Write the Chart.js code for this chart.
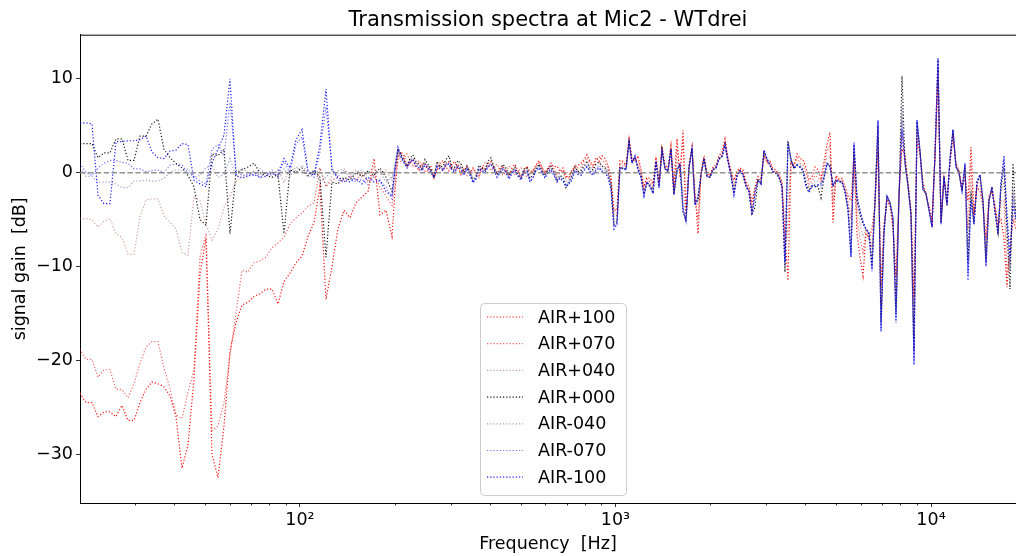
<!DOCTYPE html>
<html>
<head>
<meta charset="utf-8">
<script src="https://cdn.jsdelivr.net/npm/chart.js@4/dist/chart.umd.min.js"></script>
<style>
  html, body { margin: 0; padding: 0; background: #fff; }
  #wrap { width: 1016px; height: 556px; }
</style>
</head>
<body>
<div id="wrap"><canvas id="spectra" width="1016" height="556"></canvas></div>
<script>
// frequency grid [Hz], shared by all series
const freqs = [
  // 20 - 200 Hz
  20.08, 20.98, 21.91, 22.90, 23.92, 24.99, 26.11, 27.28, 28.50, 29.77,
  31.11, 32.50, 33.95, 35.47, 37.06, 38.72, 40.46, 42.27, 44.16, 46.13,
  48.20, 50.36, 52.61, 54.96, 57.43, 60.00, 62.68, 65.49, 68.42, 71.48,
  74.68, 78.02, 81.51, 85.16, 88.97, 92.96, 97.12, 101.5, 106.0, 110.8,
  115.7, 120.9, 126.3, 131.9, 137.9, 144.0, 150.5, 157.2, 164.3, 171.6,
  179.3, 187.3, 195.7,
  // 200 - 1000 Hz
  200.0, 204.4, 208.9, 213.6, 218.3, 223.1, 228.0, 233.1, 238.3, 243.6,
  249.0, 254.5, 260.1, 265.9, 271.8, 277.8, 284.0, 290.2, 296.6, 303.2,
  309.9, 316.8, 323.8, 331.0, 338.3, 345.8, 353.5, 361.3, 369.3, 377.4,
  385.8, 394.3, 403.0, 412.0, 421.1, 430.4, 439.9, 449.7, 459.6, 469.8,
  480.2, 490.8, 501.7, 512.8, 524.2, 535.8, 547.7, 559.8, 572.2, 584.8,
  597.8, 611.0, 624.5, 638.3, 652.5, 666.9, 681.7, 696.7, 712.1, 727.9,
  744.0, 760.5, 777.3, 794.6, 812.2, 830.1, 848.5, 867.3, 886.5, 906.1,
  926.2, 946.7, 967.7, 989.0,
  // 1 - 18.6 kHz
  1011, 1033, 1056, 1080, 1104, 1128, 1153, 1178, 1205, 1231,
  1258, 1286, 1315, 1344, 1374, 1404, 1435, 1467, 1499, 1532,
  1566, 1601, 1637, 1673, 1710, 1748, 1786, 1826, 1866, 1908,
  1950, 1993, 2037, 2082, 2128, 2175, 2224, 2273, 2323, 2374,
  2427, 2481, 2536, 2592, 2649, 2708, 2768, 2829, 2892, 2956,
  3021, 3088, 3156, 3226, 3298, 3371, 3445, 3521, 3599, 3679,
  3761, 3844, 3929, 4016, 4105, 4196, 4289, 4383, 4480, 4580,
  4681, 4785, 4891, 4999, 5110, 5223, 5338, 5456, 5577, 5701,
  5827, 5956, 6088, 6222, 6360, 6501, 6645, 6792, 6942, 7096,
  7253, 7414, 7578, 7745, 7917, 8092, 8271, 8454, 8641, 8833,
  9028, 9228, 9432, 9641, 9855, 10073, 10296, 10524, 10757, 10995,
  11238, 11487, 11741, 12001, 12267, 12538, 12816, 13100, 13390, 13686,
  13989, 14299, 14615, 14939, 15269, 15607, 15953, 16306, 16667, 17036,
  17413, 17799, 18193, 18595
];

const seriesNames = ['AIR+100', 'AIR+070', 'AIR+040', 'AIR+000', 'AIR-040', 'AIR-070', 'AIR-100'];
const seriesColors = [
  'rgba(255,0,0,0.95)',
  'rgba(235,20,20,0.65)',
  'rgba(150,70,70,0.5)',
  'rgba(0,0,0,0.9)',
  'rgba(60,60,150,0.5)',
  'rgba(20,20,240,0.6)',
  'rgba(0,0,245,0.9)'
];

// signal gain [dB] per series
const air100 = [
  -23.5, -24.5, -24.5, -26.0, -25.5, -25.5, -26.0, -24.8, -26.4, -26.4,
  -24.5, -23.1, -22.3, -22.5, -22.8, -23.8, -26.0, -31.5, -29.0, -22.0,
  -10.8, -7.0, -30.0, -32.5, -27.0, -19.0, -16.0, -14.1, -13.8, -13.2,
  -12.9, -12.4, -12.4, -14.0, -11.6, -10.7, -9.6, -8.9, -6.8, -5.3,
  -1.5, -13.5, -10.0, -6.0, -4.0, -4.8, -3.2, -2.6, -2.0, 1.5,
  -4.5, -4.0, -6.8,
  -2.0, 1.5, 2.2, 1.8, 0.6, 1.0, 1.4, 0.7, 0.2, 0.9,
  0.9, 0.2, 0.3, -0.6, 0.2, 1.0, 1.3, 0.6, 0.2, 0.9,
  1.2, 0.5, -0.2, 0.4, 0.6, -0.2, 0.5, 0.0, -0.3, 0.6,
  0.4, 1.0, 1.2, 0.4, -0.1, 0.6, 0.7, 0.0, -0.2, 0.5,
  0.9, 0.2, -0.4, 0.0, 0.7, 0.1, 0.2, 0.8, 1.3, 0.6,
  0.0, 0.5, 1.0, 0.6, 0.7, 0.1, 0.5, -0.4, -0.5, 0.3,
  0.6, 0.8, 1.0, 1.4, 1.9, 1.2, 0.8, 1.6, 1.2, 1.8,
  1.5, 0.8, -0.5, -4.0,
  -4.0, 1.3, 1.2, 0.8, 3.6, 1.5, 1.2, 1.8, 0.3, -1.5,
  -0.5, -0.6, -1.2, 1.6, -1.0, 2.8, 0.8, 0.5, 2.9, -1.6,
  3.6, -0.5, 4.5, -4.5, 0.8, 2.8, -2.0, -6.5, 0.0, 1.8,
  0.0, -0.3, 0.6, 0.8, 1.8, 2.2, 3.6, 1.5, 0.2, -0.8,
  0.2, 0.5, 0.3, -1.0, -1.5, -3.2, -1.5, -0.4, -0.6, 1.8,
  1.0, 1.2, 0.4, 0.3, -0.2, -1.0, -6.5, -11.5, 1.0, 0.8,
  2.0, 1.5, 1.4, 0.5, -0.8, -0.5, 0.6, 0.3, -0.6, 1.2,
  3.0, 4.3, -5.3, -0.3, -0.7, -0.6, -1.5, -2.5, -3.0, 1.2,
  -6.5, -9.0, -11.0, -6.5, -7.0, -6.0, -3.5, 2.5, -12.0, -5.5,
  -3.0, -3.5, -6.0, -11.0, -2.2, 2.5, 2.0, -1.0, -4.0, -13.3,
  3.5, 2.0, -1.0, -2.5, -3.5, -5.0, 1.5, 10.0, -5.0, -0.6,
  -3.0, 1.0, 3.8, 1.0, 0.2, -1.5, -0.5, -3.0, 2.7, -4.5,
  -1.5, -2.0, -3.5, -7.0, -2.5, -2.0, -3.5, -5.5, -5.0, -7.0,
  -12.2, -8.0, -5.0, -6.0
];
const air070 = [
  -18.8, -19.9, -19.9, -21.8, -21.0, -21.0, -23.1, -23.1, -24.0, -22.5,
  -20.3, -18.6, -18.0, -18.0, -20.8, -23.0, -25.8, -26.2, -23.4, -21.0,
  -9.0, -6.5, -27.5, -27.0, -24.5, -19.5, -15.0, -10.4, -10.6, -9.6,
  -9.4, -9.0, -8.0, -7.5, -6.9, -5.5, -4.8, -4.3, -3.6, -3.2,
  0.5, -1.5, -0.8, -0.5, -1.0, -0.3, -0.8, 0.0, -1.0, -0.3,
  -1.5, -2.5, -3.5,
  -1.0, 2.2, 1.2, 1.6, 2.0, 1.3, 0.6, 0.9, 1.3, 0.7,
  0.0, 0.4, 0.8, -0.4, 0.3, 0.9, 0.2, 0.8, 1.2, 0.7,
  0.1, 0.7, 0.9, 0.3, -0.3, 0.1, 0.4, -0.2, -0.5, 0.4,
  1.1, 0.9, 0.2, 0.5, 0.9, 0.4, -0.3, 0.1, 0.7, 0.4,
  -0.2, 0.1, 0.5, 0.1, -0.5, -0.1, 0.2, 0.7, 1.1, 0.5,
  -0.1, 0.4, 0.8, 0.4, -0.2, 0.0, 0.3, -0.6, -0.2, 0.1,
  0.9, 0.5, 0.6, 1.2, 1.6, 1.0, 0.6, 1.3, 1.7, 1.4,
  1.0, 0.5, -0.8, -4.5,
  -4.5, 1.0, 1.0, 0.6, 3.4, 1.3, 1.5, 1.2, 0.0, -1.8,
  -0.7, -1.0, -1.6, 1.4, -1.2, 2.6, 0.6, 0.3, 2.7, -2.0,
  2.5, 0.0, 3.5, -4.8, 0.6, 2.7, -2.6, -5.0, -0.2, 1.6,
  -0.2, -0.4, 0.5, 0.6, 1.6, 2.0, 3.3, 1.4, 0.0, -1.5,
  0.0, 0.4, 0.0, -1.2, -1.8, -3.8, -1.7, -0.6, -0.9, 2.0,
  1.2, 1.0, 0.2, 0.1, -0.3, -1.2, -8.0, -6.0, 1.2, 0.6,
  1.6, 1.0, 0.8, 0.0, -1.2, -0.9, -0.3, -0.5, -0.9, 0.6,
  2.2, 3.0, -3.5, -0.5, -0.8, -0.8, -1.8, -3.0, -5.0, 2.0,
  -5.0, -7.0, -8.5, -6.2, -6.8, -8.0, -3.2, 3.8, -14.5, -6.0,
  -2.8, -3.3, -5.5, -13.0, -2.4, 3.5, 1.5, -1.2, -4.2, -16.0,
  4.5, 2.2, -1.4, -2.3, -3.8, -5.4, 1.8, 11.0, -5.2, -0.5,
  -3.2, 1.2, 4.2, 0.8, 0.1, -1.8, 0.2, -6.0, 1.0, -5.0,
  -1.2, -1.0, -3.2, -8.5, -2.8, -1.8, -3.8, -6.0, -3.0, -3.0,
  -10.5, -8.5, -4.5, -5.5
];
const air040 = [
  -4.9, -4.9, -5.0, -5.8, -5.2, -4.9, -6.5, -6.9, -8.7, -8.7,
  -4.7, -2.9, -2.8, -2.8, -4.6, -5.3, -6.0, -8.5, -8.8, -2.5,
  -3.0, -5.5, -7.2, -6.0, -3.7, -2.5, -1.0, -0.3, -0.5, 0.2,
  -0.3, 0.0, -0.2, 0.3, -1.0, 0.5, 0.2, 0.8, 0.0, -0.2,
  0.5, -1.5, -0.3, 0.2, 0.4, -0.3, 0.3, -0.5, 0.0, 0.5,
  -0.2, 0.3, -0.8,
  0.5, 2.3, 1.9, 1.4, 0.8, 1.2, 1.6, 1.1, 0.9, 0.5,
  1.1, 0.6, 0.4, -0.2, 0.9, 0.7, 0.3, 1.0, 1.2, 0.5,
  0.4, 0.9, 0.6, 0.1, 0.8, 0.2, -0.6, -0.3, 0.5, 0.3,
  0.2, 0.7, 1.1, 0.7, 0.0, 0.2, 0.6, 0.3, -0.2, 0.2,
  0.5, 0.0, -0.4, 0.3, 0.6, -0.2, 0.1, 0.5, 0.8, 0.3,
  -0.1, 0.3, 0.6, 0.2, -0.4, -0.1, 0.2, -0.9, -0.6, -0.1,
  0.5, 0.2, 0.3, 0.9, 1.2, 0.7, 0.4, 0.9, 1.2, 0.8,
  0.6, 0.2, -1.0, -5.0,
  -5.0, 0.8, 0.7, 0.5, 3.4, 1.2, 1.6, 0.8, -0.3, -2.1,
  -0.9, -1.2, -1.9, 1.3, -1.4, 2.5, 0.5, 0.2, 2.6, -2.2,
  1.2, 0.6, -2.0, -5.0, 0.6, 2.6, -3.0, -3.5, -0.2, 1.6,
  -0.3, -0.4, 0.4, 0.6, 1.5, 1.8, 3.1, 1.3, -0.1, -2.0,
  -0.2, 0.3, -0.1, -1.3, -1.9, -4.2, -2.5, -0.7, -1.0, 2.2,
  1.3, 0.9, 0.1, 0.0, -0.4, -1.3, -9.0, -3.0, 1.3, 0.5,
  1.0, 0.8, 0.5, -0.8, -1.6, -1.2, -0.9, -0.9, -1.1, 0.0,
  1.5, 1.8, -2.5, -0.7, -0.9, -0.9, -1.9, -3.5, -6.5, 2.6,
  -3.8, -5.5, -6.8, -6.1, -6.6, -9.0, -3.1, 4.5, -15.5, -6.2,
  -2.6, -3.2, -5.2, -14.5, -2.5, 6.0, 1.2, -1.3, -4.3, -18.0,
  5.0, 2.3, -1.6, -2.2, -3.9, -5.6, 1.9, 11.5, -5.3, -0.4,
  -3.3, 1.3, 4.4, 0.7, 0.0, -1.9, 0.5, -8.0, -1.0, -5.2,
  -1.1, -0.6, -3.1, -9.0, -2.9, -1.7, -4.0, -6.2, -2.0, -1.0,
  -8.0, -10.0, -2.0, -5.2
];
const air000 = [
  3.1, 3.1, 3.1, 1.6, 2.1, 2.1, 3.6, 3.6, 1.3, 1.3,
  3.9, 3.9, 5.2, 5.7, 2.5, 1.6, 1.0, 0.5, -0.3, -1.5,
  -5.0, -5.6, 2.0, 1.8, 2.5, -6.5, 0.0, 0.3, 0.6, 1.0,
  0.0, -0.3, -0.5, -0.2, -6.5, 0.3, 0.0, 0.5, -0.3, 0.2,
  -0.5, -9.0, -1.0, -1.2, -0.5, -0.8, 0.0, -0.4, 0.2, -0.3,
  0.5, -0.5, -2.0,
  0.0, 2.6, 2.0, 1.3, 0.7, 1.5, 1.9, 1.2, 0.9, 0.4,
  1.4, 0.9, 0.3, -0.5, 1.2, 0.6, 0.7, 1.4, 1.8, 0.5,
  0.6, 1.3, 0.9, 0.0, 0.7, 0.1, -0.9, -0.5, 0.8, 0.5,
  0.3, 1.2, 1.6, 0.6, -0.2, 0.1, 0.9, 0.5, -0.3, 0.1,
  0.6, -0.2, -0.6, 0.4, 0.5, -0.6, -0.2, 0.4, 0.9, 0.2,
  -0.3, 0.4, 0.7, 0.0, -0.8, -0.3, -0.5, -1.6, -1.1, -0.2,
  0.6, 0.1, 0.2, 0.7, 1.1, 0.5, 0.3, 0.9, 1.1, 0.7,
  0.5, 0.0, -1.2, -5.5,
  -5.2, 0.6, 0.4, 0.4, 3.5, 1.1, 1.7, 0.5, -0.4, -2.3,
  -1.0, -1.4, -2.0, 1.2, -1.5, 2.4, 0.4, 0.1, 2.5, -2.4,
  0.4, 0.8, -4.2, -5.2, 0.5, 2.6, -3.2, -3.0, -0.3, 1.5,
  -0.4, -0.5, 0.3, 0.5, 1.4, 1.7, 3.0, 1.2, -0.2, -2.2,
  -0.3, 0.2, -0.2, -1.4, -2.0, -4.4, -3.7, -0.8, -1.2, 2.3,
  1.4, 0.8, 0.0, -0.1, -0.5, -1.5, -10.6, 3.4, 1.4, 0.4,
  0.8, 0.6, 0.3, -1.2, -1.8, -1.5, -1.3, -1.5, -2.7, -0.6,
  0.9, 0.9, -1.5, -0.9, -1.0, -1.0, -2.0, -3.8, -8.5, 2.8,
  -3.0, -4.5, -5.5, -6.0, -6.4, -9.8, -3.0, 5.0, -16.0, -6.3,
  -2.5, -3.2, -5.0, -15.0, -2.6, 10.3, 1.0, -1.4, -4.4, -19.0,
  5.4, 2.3, -1.7, -2.2, -4.0, -5.7, 2.0, 12.0, -5.4, -0.4,
  -3.4, 1.4, 4.5, 0.6, 0.0, -2.0, 0.8, -9.5, -2.0, -5.4,
  -1.0, -0.3, -3.0, -9.5, -3.0, -1.6, -4.2, -6.4, -1.5, 0.5,
  -6.0, -12.4, 1.0, -5.0
];
const airm040 = [
  0.5, -0.4, -0.4, -1.0, -1.0, -1.0, -1.2, -1.6, -1.6, -0.9,
  -0.9, -0.8, -0.9, -0.9, -0.6, 0.0, 0.3, 0.2, 0.4, -0.5,
  -0.3, 0.5, 0.8, -0.5, -0.2, 1.5, -0.3, 0.5, 0.0, -0.3,
  0.4, -0.2, 0.3, -0.5, 0.4, -0.4, 0.6, 0.2, -0.5, 0.3,
  -1.0, -0.5, 0.2, -0.4, 0.3, -0.6, 0.0, 0.3, -0.8, -0.2,
  0.2, -1.0, -0.5,
  0.8, 2.2, 1.6, 1.2, 0.7, 1.3, 1.5, 1.0, 0.8, 0.5,
  1.0, 0.7, 0.2, -0.3, 0.8, 0.6, 0.4, 1.0, 1.1, 0.4,
  0.3, 0.8, 0.5, 0.0, 0.6, 0.0, -0.8, -0.5, 0.6, 0.3,
  0.2, 0.8, 1.0, 0.5, -0.2, 0.2, 0.5, 0.2, -0.4, 0.1,
  0.4, -0.1, -0.5, 0.2, 0.3, -0.7, -0.3, 0.4, 0.7, 0.2,
  -0.3, 0.2, 0.5, 0.0, -0.7, -0.4, -0.6, -1.3, -0.9, -0.4,
  0.4, 0.0, 0.0, 0.5, 0.8, 0.3, 0.0, 0.5, 0.8, 0.4,
  0.3, -0.2, -1.4, -5.6,
  -5.4, 0.5, 0.4, 0.3, 3.3, 1.0, 1.8, 0.4, -0.5, -2.4,
  -1.0, -1.5, -2.1, 1.2, -1.6, 2.4, 0.4, 0.2, 2.5, -2.3,
  0.3, 0.9, -4.0, -5.2, 0.5, 2.6, -3.3, -2.8, -0.3, 1.5,
  -0.4, -0.5, 0.3, 0.5, 1.5, 1.7, 3.0, 1.2, -0.3, -2.3,
  -0.4, 0.2, -0.2, -1.5, -2.0, -4.5, -2.5, -0.8, -1.2, 2.4,
  1.5, 0.8, 0.1, 0.0, -0.5, -1.5, -10.0, 3.0, 1.4, 0.5,
  0.8, 0.6, 0.2, -1.4, -2.0, -1.4, -1.4, -1.4, -1.8, -0.5,
  1.0, 0.7, -1.4, -0.8, -0.9, -1.0, -2.0, -3.9, -8.8, 3.0,
  -2.8, -4.2, -5.3, -6.0, -6.5, -10.2, -3.0, 5.3, -16.5, -6.4,
  -2.5, -3.2, -4.9, -15.5, -2.5, 7.0, 1.0, -1.4, -4.5, -19.8,
  5.5, 2.3, -1.8, -2.2, -4.0, -5.8, 2.0, 12.1, -5.5, -0.5,
  -3.5, 1.5, 4.6, 0.6, 0.0, -2.0, 0.9, -10.5, -2.5, -5.5,
  -1.0, -0.2, -3.0, -9.8, -3.0, -1.5, -4.2, -6.5, -1.2, 1.2,
  -5.0, -10.5, -1.5, -5.0
];
const airm070 = [
  1.0, 0.0, -0.3, 0.5, 1.0, 1.3, 1.3, 1.1, 1.0, 0.4,
  0.4, 0.1, 0.2, 0.3, 0.0, 0.8, 0.9, 0.8, 0.0, -0.4,
  -0.9, -1.2, 2.5, 3.0, 1.8, 7.5, 0.3, -0.3, -0.2, 0.1,
  -0.5, 0.0, -0.3, 0.2, 1.2, 0.0, 3.0, 3.8, 0.0, -0.5,
  2.2, 7.0, 0.5, -0.8, -1.0, -0.5, -1.0, -0.7, -1.3, -0.5,
  -1.0, -1.5, -2.8,
  0.6, 2.4, 1.7, 1.1, 0.6, 1.2, 1.4, 0.8, 0.6, 0.3,
  0.9, 0.6, 0.1, -0.4, 0.7, 0.5, 0.3, 0.9, 1.0, 0.3,
  0.2, 0.7, 0.4, -0.2, 0.5, -0.1, -1.0, -0.6, 0.5, 0.2,
  0.1, 0.7, 0.9, 0.4, -0.4, 0.0, 0.4, 0.1, -0.6, 0.0,
  0.3, -0.3, -0.7, 0.1, 0.2, -0.9, -0.5, 0.3, 0.6, 0.1,
  -0.5, 0.1, 0.4, -0.2, -0.9, -0.5, -0.8, -1.4, -1.1, -0.6,
  0.3, -0.1, -0.2, 0.3, 0.7, 0.2, -0.2, 0.3, 0.6, 0.2,
  0.1, -0.4, -1.6, -5.8,
  -5.6, 0.5, 0.5, 0.3, 3.2, 1.0, 1.8, 0.3, -0.5, -2.5,
  -1.0, -1.5, -2.2, 1.2, -1.6, 2.4, 0.4, 0.2, 2.5, -2.3,
  0.2, 1.0, -3.9, -5.2, 0.5, 2.6, -3.4, -2.6, -0.3, 1.5,
  -0.4, -0.5, 0.3, 0.5, 1.5, 1.7, 3.0, 1.2, -0.3, -2.4,
  -0.4, 0.2, -0.2, -1.5, -2.0, -4.5, -2.2, -0.8, -1.2, 2.4,
  1.5, 0.8, 0.1, 0.0, -0.5, -1.5, -9.8, 3.1, 1.4, 0.5,
  0.8, 0.6, 0.2, -1.5, -2.1, -1.4, -1.5, -1.3, -1.4, -0.5,
  1.0, 0.6, -1.3, -0.8, -0.9, -1.0, -2.0, -4.0, -9.0, 3.1,
  -2.6, -4.1, -5.2, -6.0, -6.5, -10.4, -3.0, 5.5, -16.8, -6.5,
  -2.5, -3.2, -4.8, -15.8, -2.5, 5.5, 1.0, -1.4, -4.5, -20.2,
  5.6, 2.3, -1.8, -2.2, -4.0, -5.8, 2.0, 12.2, -5.5, -0.5,
  -3.5, 1.5, 4.6, 0.6, 0.0, -2.0, 1.0, -11.0, -2.8, -5.5,
  -1.0, -0.2, -3.0, -10.0, -3.0, -1.5, -4.2, -6.5, -1.0, 1.5,
  -4.8, -9.5, -2.5, -5.0
];
const airm100 = [
  5.3, 5.3, 5.2, -2.4, -3.3, -3.3, 3.3, 3.3, 3.4, 3.4,
  3.5, 3.9, 2.2, 1.6, 1.5, 2.3, 2.4, 3.1, 3.0, -0.8,
  -1.2, -1.5, 1.0, 2.5, 4.0, 10.0, -0.3, -0.6, -0.3, -0.2,
  -0.5, -0.4, 0.1, -0.4, 1.5, 0.5, 3.5, 4.6, 0.2, -0.3,
  3.0, 8.9, 0.3, -0.5, -0.8, -1.0, -0.6, -1.2, -0.5, -1.0,
  -0.8, -2.0, -2.5,
  0.5, 2.7, 1.8, 1.0, 0.5, 1.1, 1.3, 0.7, 0.5, 0.2,
  0.8, 0.5, 0.0, -0.6, 0.6, 0.4, 0.2, 0.8, 0.9, 0.2,
  0.1, 0.6, 0.3, -0.3, 0.4, -0.3, -1.1, -0.7, 0.4, 0.1,
  0.0, 0.6, 0.8, 0.3, -0.5, -0.1, 0.3, 0.0, -0.7, -0.1,
  0.2, -0.4, -0.8, 0.0, 0.1, -1.0, -0.6, 0.2, 0.5, 0.0,
  -0.6, 0.0, 0.3, -0.3, -1.0, -0.6, -0.9, -1.5, -1.2, -0.8,
  0.2, -0.2, -0.3, 0.2, 0.6, 0.1, -0.3, 0.2, 0.5, 0.1,
  0.0, -0.5, -1.8, -6.0,
  -5.5, 0.5, 0.5, 0.3, 3.2, 1.0, 1.8, 0.3, -0.5, -2.5,
  -1.0, -1.5, -2.2, 1.2, -1.6, 2.4, 0.4, 0.2, 2.5, -2.3,
  0.2, 1.0, -3.8, -5.2, 0.5, 2.6, -3.5, -2.5, -0.3, 1.5,
  -0.4, -0.5, 0.3, 0.5, 1.5, 1.7, 3.0, 1.2, -0.3, -2.4,
  -0.4, 0.2, -0.2, -1.5, -2.0, -4.5, -2.0, -0.8, -1.2, 2.4,
  1.5, 0.8, 0.1, 0.0, -0.5, -1.5, -9.5, 3.2, 1.4, 0.5,
  0.8, 0.6, 0.2, -1.5, -2.1, -1.4, -1.5, -1.3, -1.2, -0.5,
  1.0, 0.6, -1.3, -0.8, -0.9, -1.0, -2.0, -4.0, -9.0, 3.2,
  -2.5, -4.0, -5.2, -6.0, -6.5, -10.5, -3.0, 5.6, -17.0, -6.5,
  -2.5, -3.2, -4.8, -16.0, -2.5, 4.5, 1.0, -1.4, -4.5, -20.5,
  5.6, 2.3, -1.8, -2.2, -4.0, -5.8, 2.0, 12.2, -5.5, -0.5,
  -3.5, 1.5, 4.6, 0.6, 0.0, -2.0, 1.0, -11.5, -3.0, -5.5,
  -1.0, -0.2, -3.0, -10.0, -3.0, -1.5, -4.2, -6.5, -1.0, 1.8,
  -4.5, -9.0, -3.5, -5.0
];
const seriesValues = [air100, air070, air040, air000, airm040, airm070, airm100];

const xTicks = [100, 1000, 10000];
const xTickLabels = ['10²', '10³', '10⁴'];
const xMinorTicks = [20, 30, 40, 50, 60, 70, 80, 90, 200, 300, 400, 500, 600, 700, 800, 900,
  2000, 3000, 4000, 5000, 6000, 7000, 8000, 9000];
const yTicks = [-30, -20, -10, 0, 10];
const yTickLabels = ['−30', '−20', '−10', '0', '10'];

seriesValues.forEach((v, i) => {
  if (v.length !== freqs.length) throw new Error(seriesNames[i] + ': ' + v.length + ' values, expected ' + freqs.length);
});

const FONT = 'DejaVu Sans';

const datasets = seriesNames.map((name, i) => ({
  label: name,
  data: freqs.map((f, j) => ({ x: f, y: seriesValues[i][j] })),
  borderColor: seriesColors[i],
  borderWidth: 1.2,
  borderDash: [1.2, 2.0],
  pointRadius: 0,
  tension: 0,
  inLegend: true,
  order: seriesNames.length - i
}));
// dashed zero reference line
datasets.push({
  label: 'zero',
  data: [{ x: freqs[0], y: 0 }, { x: freqs[freqs.length - 1], y: 0 }],
  borderColor: 'rgba(128,128,128,0.85)',
  borderWidth: 1.5,
  borderDash: [5.5, 2.4],
  pointRadius: 0,
  inLegend: false,
  order: 0
});

const extras = {
  id: 'extras',
  afterDraw(chart) {
    const { ctx, chartArea: a, scales } = chart;
    ctx.save();
    ctx.strokeStyle = '#000';
    ctx.lineWidth = 1;
    ctx.setLineDash([]);
    // top spine
    ctx.beginPath();
    ctx.moveTo(a.left, a.top + 0.5);
    ctx.lineTo(a.right, a.top + 0.5);
    ctx.stroke();
    // minor ticks of the log axis
    ctx.lineWidth = 0.8;
    xMinorTicks.forEach(v => {
      if (v < scales.x.min || v > scales.x.max) return;
      const px = Math.round(scales.x.getPixelForValue(v)) + 0.5;
      ctx.beginPath();
      ctx.moveTo(px, a.bottom);
      ctx.lineTo(px, a.bottom + 2.5);
      ctx.stroke();
    });

    // legend box
    const bx = 480.5, by = 303.5, bw = 146, bh = 192, r = 4;
    ctx.beginPath();
    ctx.moveTo(bx + r, by);
    ctx.arcTo(bx + bw, by, bx + bw, by + bh, r);
    ctx.arcTo(bx + bw, by + bh, bx, by + bh, r);
    ctx.arcTo(bx, by + bh, bx, by, r);
    ctx.arcTo(bx, by, bx + bw, by, r);
    ctx.closePath();
    ctx.fillStyle = 'rgba(255,255,255,0.8)';
    ctx.fill();
    ctx.strokeStyle = 'rgba(204,204,204,1)';
    ctx.lineWidth = 1;
    ctx.stroke();

    ctx.font = '17.5px "' + FONT + '"';
    ctx.textBaseline = 'middle';
    ctx.textAlign = 'left';
    chart.data.datasets.filter(d => d.inLegend).forEach((ds, i) => {
      const y = 317 + i * 26.7;
      ctx.strokeStyle = ds.borderColor;
      ctx.lineWidth = ds.borderWidth;
      ctx.setLineDash(ds.borderDash);
      ctx.beginPath();
      ctx.moveTo(487, y);
      ctx.lineTo(523, y);
      ctx.stroke();
      ctx.setLineDash([]);
      ctx.fillStyle = '#000';
      ctx.fillText(ds.label, 538, y + 1);
    });
    ctx.restore();
  }
};

new Chart(document.getElementById('spectra'), {
  type: 'line',
  data: { datasets },
  options: {
    responsive: false,
    animation: false,
    events: [],
    normalized: true,
    layout: { padding: 0 },
    scales: {
      x: {
        type: 'logarithmic',
        min: freqs[0],
        max: freqs[freqs.length - 1],
        afterBuildTicks: s => { s.ticks = xTicks.map(v => ({ value: v })); },
        afterFit: s => { s.height = 53; },
        ticks: {
          autoSkip: false,
          maxRotation: 0,
          padding: 3,
          color: '#000',
          font: { family: FONT, size: 17.5 },
          callback: v => xTickLabels[xTicks.indexOf(v)]
        },
        grid: { drawOnChartArea: false, tickLength: 4, color: '#000', tickWidth: 0.8 },
        border: { display: true, color: '#000', width: 1 },
        title: {
          display: true,
          text: 'Frequency  [Hz]',
          color: '#000',
          font: { family: FONT, size: 17.5 },
          padding: { top: 0, bottom: 1.5 }
        }
      },
      y: {
        type: 'linear',
        min: -35.2,
        max: 14.7,
        afterBuildTicks: s => { s.ticks = yTicks.map(v => ({ value: v })); },
        afterFit: s => { s.width = 80; },
        ticks: {
          padding: 3,
          color: '#000',
          font: { family: FONT, size: 17.5 },
          callback: v => yTickLabels[yTicks.indexOf(v)]
        },
        grid: { drawOnChartArea: false, tickLength: 4, color: '#000', tickWidth: 0.8 },
        border: { display: true, color: '#000', width: 1 },
        title: {
          display: true,
          text: 'signal gain  [dB]',
          color: '#000',
          font: { family: FONT, size: 17.5 },
          padding: { top: 10, bottom: 0 }
        }
      }
    },
    plugins: {
      legend: { display: false },
      tooltip: { enabled: false },
      title: {
        display: true,
        fullSize: false,
        text: 'Transmission spectra at Mic2 - WTdrei',
        color: '#000',
        font: { family: FONT, size: 21, weight: 'normal' },
        padding: { top: 8, bottom: 1.5 }
      }
    }
  },
  plugins: [extras]
});
</script>
</body>
</html>
